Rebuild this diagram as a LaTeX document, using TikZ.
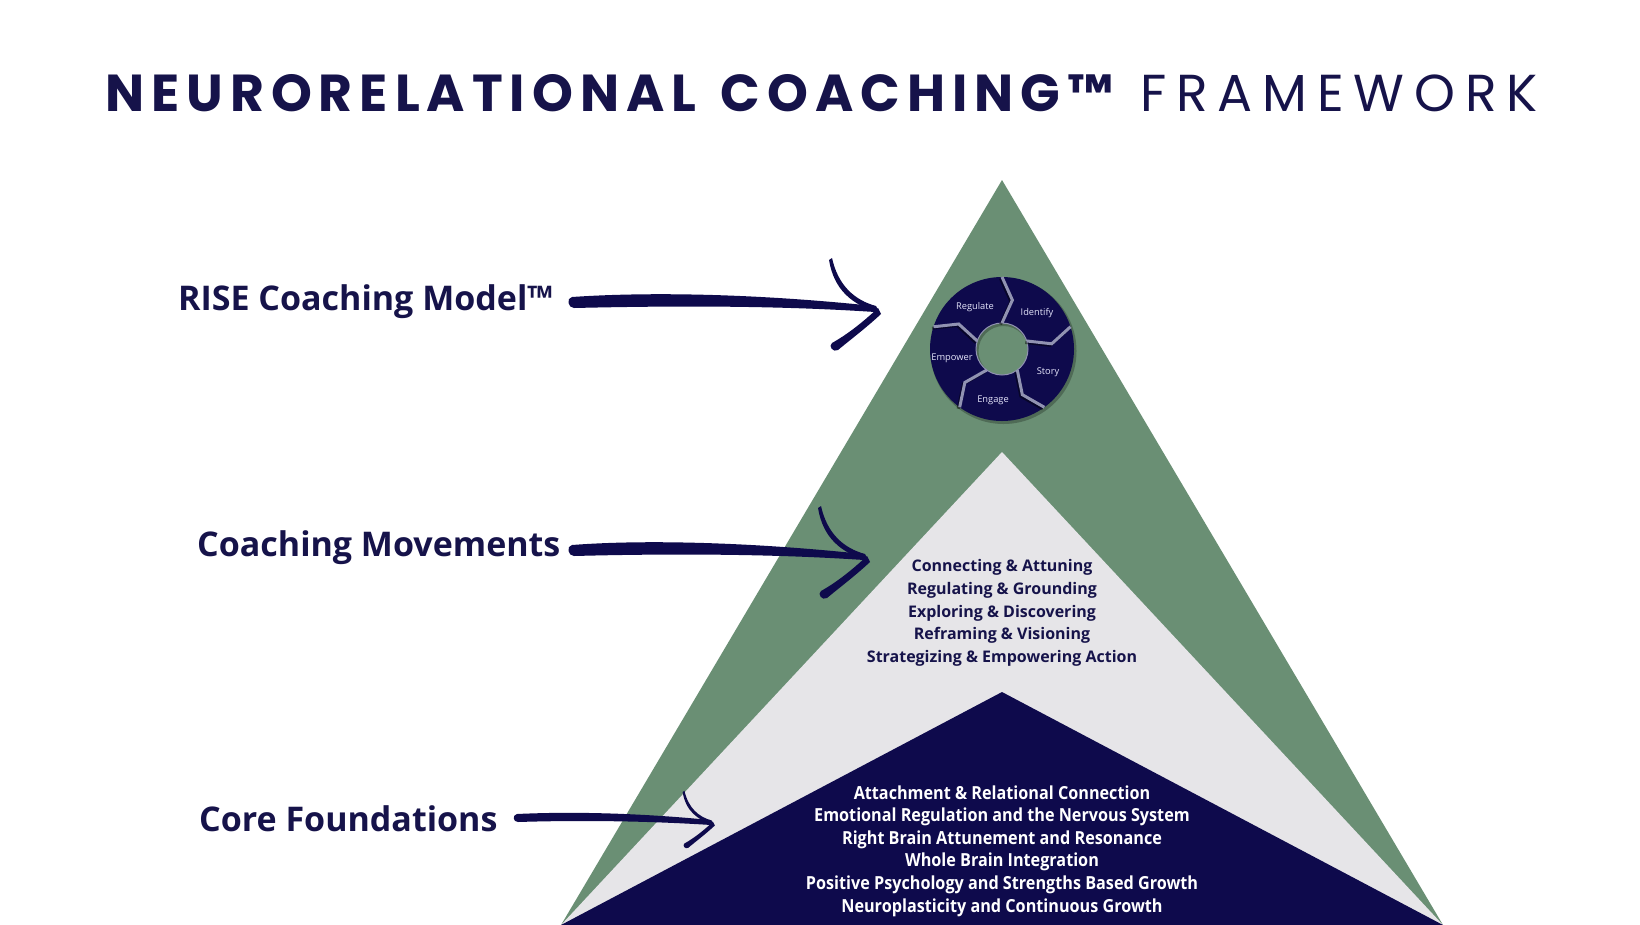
\documentclass[tikz,border=0pt]{standalone}
\usepackage{fontspec}
\setmainfont{Open Sans}
\newfontfamily\titlefont[LetterSpace=13.5]{Poppins}
\newfontfamily\titlefontsp[LetterSpace=19]{Poppins}
\newfontfamily\condfont[FakeStretch=0.9]{Open Sans}
\usetikzlibrary{calc}
\definecolor{navy}{RGB}{14,10,76}
\definecolor{txtnavy}{RGB}{22,19,74}
\definecolor{pgreen}{RGB}{106,143,116}
\definecolor{pgray}{RGB}{230,229,232}
\definecolor{ringline}{RGB}{145,147,178}
\definecolor{ringtext}{RGB}{228,228,250}
\tikzset{
  sidelabel/.style={anchor=base west, inner sep=0pt, text=txtnavy, font=\bfseries\fontsize{34}{40}\selectfont},
  midlist/.style={align=center, inner sep=0pt, text=txtnavy, font=\bfseries\fontsize{16}{22.6}\selectfont},
  botlist/.style={align=center, inner sep=0pt, text=white, font=\condfont\bfseries\fontsize{18}{22.6}\selectfont},
  ringlabel/.style={inner sep=0pt, text=ringtext, font=\fontsize{9.3}{10}\selectfont},
  divider/.style={ringline, line width=3pt, line join=miter},
  dividershadow/.style={black, opacity=0.45, line width=3pt},
  brush/.style={fill=navy},
  brushhead/.pic={
    \fill[brush] (-46,-52) .. controls (-40,-25) and (-24,-10) .. (-2,-4) -- (2,3) .. controls (-26,-5) and (-44,-20) .. (-49,-50) -- cycle;
    \fill[brush] (0,-2) .. controls (-15,12) and (-30,24) .. (-46,33) .. controls (-50,36) and (-45,43) .. (-40,40) .. controls (-28,30) and (-12,18) .. (3,4) -- cycle;
  }
}
\begin{document}
\begin{tikzpicture}[x=1pt,y=-1pt]
\useasboundingbox (0,0) rectangle (1640,924);
\fill[white] (0,0) rectangle (1640,924);

% title
\node[anchor=base west, inner sep=0pt, text=txtnavy, font=\titlefont\bfseries\fontsize{52}{60}\selectfont] (title1) at (105,111) {NEURORELATIONAL\hspace{0.12em} COACHING™};
\node[anchor=base west, inner sep=0pt, text=txtnavy, font=\titlefontsp\fontsize{52}{60}\selectfont] (title2) at (1140,111) {FRAMEWORK};

% pyramid
\coordinate (BL) at (561,925);
\coordinate (BR) at (1443,925);
\coordinate (apexG) at (1002,180);
\coordinate (apexL) at (1002,452);
\coordinate (apexN) at (1002,692);
\fill[pgreen] (apexG) -- (BR) -- (BL) -- cycle;
\fill[pgray] (apexL) -- (BR) -- (BL) -- cycle;
\fill[navy] (apexN) -- (BR) -- (BL) -- cycle;

% RISE ring
\coordinate (rc) at (1002,349);
\coordinate (rcs) at (1003.5,351);
\fill[black, opacity=0.25, even odd rule] (rcs) circle[radius=73] (rcs) circle[radius=25];
\fill[navy, even odd rule] (rc) circle[radius=72] (rc) circle[radius=26];
\draw[ringline, line width=1pt] (rc) circle[radius=26];
\begin{scope}[shift={(rc)}, yscale=-1]
  \foreach \a in {90,18,-54,-126,-198}{
    \draw[dividershadow] ([shift={(-1.5,-1.5)}]\a:72) -- ([shift={(-1.5,-1.5)}]\a-12:50) -- ([shift={(-1.5,-1.5)}]\a:26);
    \draw[divider] (\a:72) -- (\a-12:50) -- (\a:26);
  }
\end{scope}
\node[ringlabel] (regulate) at (975,307) {Regulate};
\node[ringlabel] (identify) at (1037,313) {Identify};
\node[ringlabel] (story) at (1048,372) {Story};
\node[ringlabel] (engage) at (993,400) {Engage};
\node[ringlabel] (empower) at (952,358) {Empower};

% lists
\node[midlist] (moves) at (1002,613) {Connecting \& Attuning\\Regulating \& Grounding\\Exploring \& Discovering\\Reframing \& Visioning\\Strategizing \& Empowering Action};
\node[botlist] (found) at (1002,851) {Attachment \& Relational Connection\\Emotional Regulation and the Nervous System\\Right Brain Attunement and Resonance\\Whole Brain Integration\\Positive Psychology and Strengths Based Growth\\Neuroplasticity and Continuous Growth};

% side labels
\node[sidelabel] (rise) at (178,310) {RISE Coaching Model™};
\node[sidelabel] (cm) at (197,556) {Coaching Movements};
\node[sidelabel] (cf) at (199,831) {Core Foundations};

% arrows
\coordinate (tip1) at (878,310);
\coordinate (tip2) at (867,558);
\coordinate (tip3) at (713,823);
\fill[brush] (572,297) .. controls (660,291) and (770,295) .. (874,306) -- (875,312) .. controls (770,305) and (660,306) .. (574,308) .. controls (568,308) and (566,298) .. (572,297) -- cycle;
\pic at (tip1) {brushhead};
\fill[brush] (572,545) .. controls (650,539) and (760,543) .. (863,554) -- (864,560) .. controls (760,553) and (650,554) .. (574,556) .. controls (568,556) and (566,546) .. (572,545) -- cycle;
\pic at (tip2) {brushhead};
\fill[brush] (517,814) .. controls (580,811) and (650,814) .. (710,820) -- (711,825) .. controls (650,821) and (580,820) .. (518,822) .. controls (513,822) and (512,815) .. (517,814) -- cycle;
\pic[scale=0.62] at (tip3) {brushhead};
\end{tikzpicture}
\end{document}
